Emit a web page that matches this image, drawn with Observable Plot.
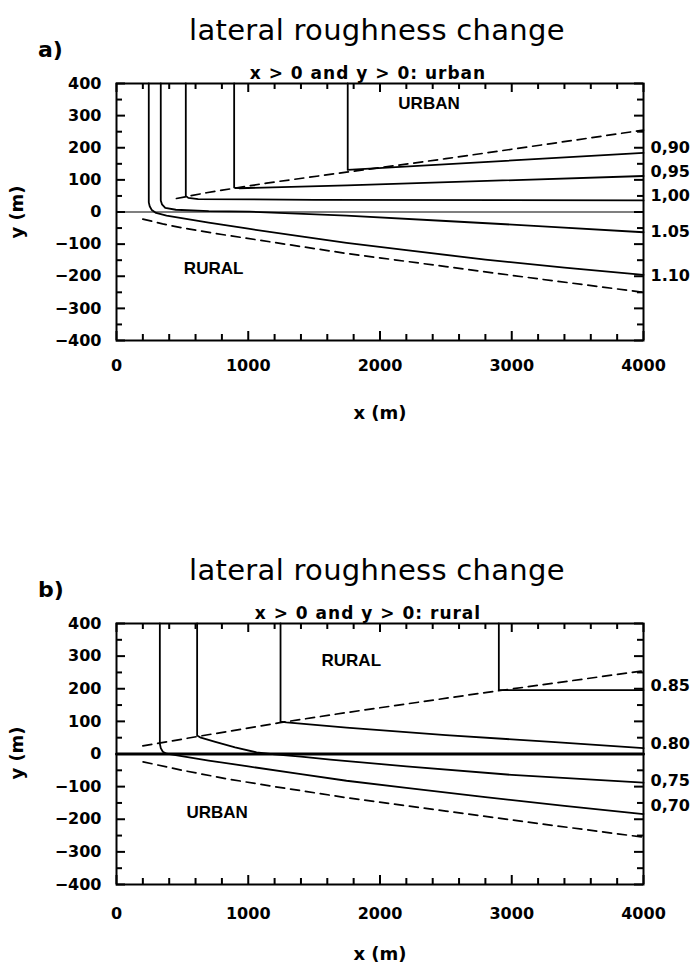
<!DOCTYPE html>
<html><head><meta charset="utf-8">
<script src="https://cdn.jsdelivr.net/npm/d3@7"></script>
<script src="https://cdn.jsdelivr.net/npm/@observablehq/plot@0.6"></script>
<style>
body{margin:0;background:#fff;}
#wrap{position:relative;width:698px;height:971px;overflow:hidden;font-family:"DejaVu Sans",sans-serif;color:#000;background:#fff;}
.abs{position:absolute;white-space:nowrap;line-height:1;}
.title{font-size:29px;font-weight:normal;letter-spacing:0.3px;}
.sub{font-size:17px;font-weight:bold;letter-spacing:1px;}
.tag{font-size:22px;font-weight:bold;}
.axl{font-size:18px;font-weight:bold;}
</style>
</head><body>
<div id="wrap">
  <div id="pa" class="abs" style="left:0;top:0"></div>
  <div id="pb" class="abs" style="left:0;top:540px"></div>

  <div class="abs tag" style="left:38px;top:39px">a)</div>
  <div class="abs title" style="left:377px;top:16px;transform:translateX(-50%)">lateral roughness change</div>
  <div class="abs sub" style="left:368px;top:65px;transform:translateX(-50%)">x &gt; 0 and y &gt; 0: urban</div>
  <div class="abs axl" style="left:380px;top:404px;transform:translateX(-50%)">x (m)</div>
  <div class="abs axl" style="left:17px;top:212px;transform:translate(-50%,-50%) rotate(-90deg)">y (m)</div>

  <div class="abs tag" style="left:38px;top:579px">b)</div>
  <div class="abs title" style="left:377px;top:556px;transform:translateX(-50%)">lateral roughness change</div>
  <div class="abs sub" style="left:368px;top:605px;transform:translateX(-50%)">x &gt; 0 and y &gt; 0: rural</div>
  <div class="abs axl" style="left:380px;top:945px;transform:translateX(-50%)">x (m)</div>
  <div class="abs axl" style="left:17px;top:753px;transform:translate(-50%,-50%) rotate(-90deg)">y (m)</div>
</div>
<script>
// ---- tick values ----
const xMajor = [0, 1000, 2000, 3000, 4000];
const xMinor = [200, 400, 600, 800, 1200, 1400, 1600, 1800, 2200, 2400, 2600, 2800, 3200, 3400, 3600, 3800];
const yMajor = [-400, -300, -200, -100, 0, 100, 200, 300, 400];
const yMinor = [-350, -250, -150, -50, 50, 150, 250, 350];

// ---- panel a curves [x, y] (m) ----
const a090 = [[1755,400],[1755,131],[4000,184]];
const a095 = [[893,400],[893,76],[930,74],[1750,83],[4000,112]];
const a100 = [[526,400],[526,50],[545,44],[620,40],[1500,38],[4000,36]];
const a105 = [[336,400],[336,36],[345,24],[370,13],[450,7],[700,3],[1010,1],[1746,-11],[2500,-28],[3300,-46],[4000,-63]];
const a110 = [[245,400],[245,30],[252,18],[268,6],[300,-3],[380,-11],[700,-33],[1000,-52],[1400,-76],[1746,-96],[2200,-119],[2800,-148],[3400,-173],[4000,-196]];
const aDashUp = [[455,42],[683,60],[1139,90],[1746,124],[2500,166],[3300,213],[4000,255]];
const aDashLo = [[200,-22],[350,-37],[506,-50],[800,-70],[1200,-95],[1746,-129],[2500,-170],[3200,-208],[4000,-250]];
const aZero = [[0,0],[4000,0]];
const aLabelText = ["0,90", "0,95", "1,00", "1.05", "1.10"];
const aLabelY = [199, 124, 50, -62, -198];
const aRegionText = ["URBAN", "RURAL"];
const aRegionX = [2372, 737];
const aRegionY = [338, -175];

// ---- panel b curves ----
const b085 = [[2902,400],[2902,196],[4000,196]];
const b080 = [[1245,400],[1245,99],[1290,97],[1746,81],[2500,58],[3300,37],[4000,18]];
const b075 = [[612,400],[612,57],[640,50],[750,37],[900,20],[1063,5],[1200,-1],[1400,-8],[1624,-17],[2200,-38],[3000,-64],[4000,-88]];
const b070 = [[329,400],[329,32],[336,18],[352,7],[380,1],[700,-20],[1000,-38],[1400,-62],[1746,-82],[2200,-104],[2800,-132],[3400,-159],[4000,-184]];
const bDashUp = [[200,25],[607,53],[1240,96],[1746,127],[2813,189],[4000,255]];
const bDashLo = [[202,-24],[500,-50],[835,-76],[1200,-100],[1746,-134],[2500,-175],[3200,-213],[4000,-255]];
const bZero = [[0,0],[4000,0]];
const bLabelText = ["0.85", "0.80", "0,75", "0,70"];
const bLabelY = [209, 32, -83, -160];
const bRegionText = ["RURAL", "URBAN"];
const bRegionX = [1782, 764];
const bRegionY = [286, -180];

const FW = 527; // frame width in px

function panel(cfg) {
  const FH = cfg.fh;
  const solid = {x: d => d[0], y: d => d[1], stroke: "black", strokeWidth: 1.8};
  const dashed = {...solid, strokeDasharray: "9,6", strokeWidth: 1.7};
  const labels = cfg.labelText.map((t, i) => ({t, y: cfg.labelY[i]}));
  const regions = cfg.regionText.map((t, i) => ({t, x: cfg.regionX[i], y: cfg.regionY[i]}));
  const tk = {stroke: "black", strokeWidth: 2};
  return Plot.plot({
    width: 698, height: 430,
    marginTop: 83, marginBottom: 430 - 83 - FH, marginLeft: 116, marginRight: 55,
    x: {domain: [0, 4000]},
    y: {domain: [-400, 400]},
    style: {fontFamily: "DejaVu Sans", fontSize: "16px", fontWeight: "bold", background: "white", color: "black", overflow: "visible"},
    marks: [
      Plot.axisX(xMajor, {tickSize: 0, tickPadding: cfg.xpad, label: null, tickFormat: d => String(d), fontSize: 16}),
      Plot.axisY(yMajor, {tickSize: 0, tickPadding: 15, label: null, tickFormat: d3.format("d"), fontSize: 16}),
      Plot.line(cfg.zero, {...solid, strokeWidth: cfg.zeroW}),
      ...cfg.curves.map(c => Plot.line(c, solid)),
      Plot.line(cfg.dashUp, dashed),
      Plot.line(cfg.dashLo, dashed),
      Plot.frame({stroke: "black", strokeWidth: 2}),
      // inward ticks on all four sides
      Plot.tickX(xMajor, {...tk, x: d => d, insetTop: FH - 9}),
      Plot.tickX(xMinor, {...tk, x: d => d, insetTop: FH - 6}),
      Plot.tickX(xMajor, {...tk, x: d => d, insetBottom: FH - 9}),
      Plot.tickX(xMinor, {...tk, x: d => d, insetBottom: FH - 6}),
      Plot.tickY(yMajor, {...tk, y: d => d, insetRight: FW - 9}),
      Plot.tickY(yMinor, {...tk, y: d => d, insetRight: FW - 6}),
      Plot.tickY(yMajor, {...tk, y: d => d, insetLeft: FW - 9}),
      Plot.tickY(yMinor, {...tk, y: d => d, insetLeft: FW - 6}),
      Plot.text(labels, {x: () => 4000, y: d => d.y, text: d => d.t, dx: 7, textAnchor: "start", fontSize: 16, fontWeight: "bold", fontFamily: "DejaVu Sans"}),
      Plot.text(regions, {x: d => d.x, y: d => d.y, text: d => d.t, fontSize: 17, fontWeight: "bold", fontFamily: "Liberation Sans"})
    ]
  });
}

document.getElementById("pa").appendChild(panel({
  fh: 257, xpad: 19, zero: aZero, zeroW: 1.1,
  curves: [a090, a095, a100, a105, a110], dashUp: aDashUp, dashLo: aDashLo,
  labelText: aLabelText, labelY: aLabelY,
  regionText: aRegionText, regionX: aRegionX, regionY: aRegionY
}));
document.getElementById("pb").appendChild(panel({
  fh: 261, xpad: 23, zero: bZero, zeroW: 3,
  curves: [b085, b080, b075, b070], dashUp: bDashUp, dashLo: bDashLo,
  labelText: bLabelText, labelY: bLabelY,
  regionText: bRegionText, regionX: bRegionX, regionY: bRegionY
}));
</script>
</body></html>
